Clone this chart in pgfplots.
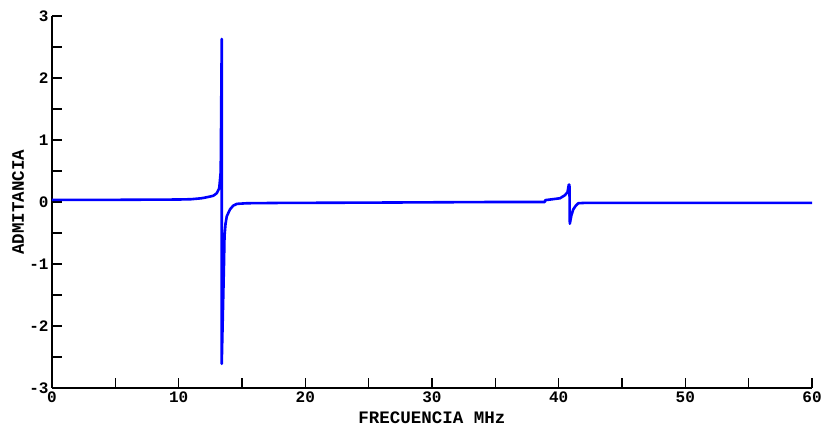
\documentclass[border=0pt]{standalone}
\usepackage{pgfplots}
\pgfplotsset{compat=1.18}
\usepackage{fontspec}
\setmainfont{Liberation Mono}
\begin{document}
\begin{tikzpicture}
\useasboundingbox (0,0) rectangle (823pt,428pt);
\begin{axis}[
  at={(52pt,40pt)}, anchor=south west,
  scale only axis, width=760pt, height=372pt,
  xmin=0, xmax=60, ymin=-3, ymax=3,
  axis lines*=left,
  axis line style={line width=1.2pt, black},
  tick align=inside,
  major tick length=10pt, minor tick length=10pt,
  tick style={line width=1.1pt, black},
  xtick={0,10,...,60}, minor xtick={5,15,...,55},
  ytick={-3,-2,-1,0,1,2,3}, minor ytick={-2.5,-1.5,-0.5,0.5,1.5,2.5},
  xticklabels={0,10,20,30,40,50,60},
  yticklabels={-3,-2,-1,0,1,2,3},
  ticklabel style={font=\fontsize{16}{16}\selectfont\bfseries},
  xlabel={FRECUENCIA MHz}, ylabel={ADMITANCIA},
  label style={font=\fontsize{17.5}{17.5}\selectfont\bfseries},
  xlabel style={at={(axis description cs:0.5,0)}, anchor=center, yshift=-30pt},
  ylabel style={at={(axis description cs:-0.0447,0.5)}, anchor=center},
  clip=false,
]
\addplot[blue, line width=2.6pt, line join=round] coordinates {
(0,0.035) (5,0.035) (10,0.04) (11,0.045) (11.8,0.06) (12.3,0.08) (12.73,0.1)
(13.0,0.14) (13.2,0.22) (13.26,0.35) (13.32,0.49) (13.40,2.63) (13.40,-2.61)
(13.58,-0.98) (13.62,-0.55) (13.7,-0.35) (13.8,-0.23) (14.05,-0.12) (14.3,-0.06)
(14.6,-0.03) (15.4,-0.02) (18,-0.015) (25,-0.01) (35,0.0) (38.9,0.0)
(38.95,0.03) (40.1,0.06) (40.5,0.11) (40.7,0.16) (40.8,0.28) (40.85,0.28)
(40.88,-0.35) (41.0,-0.22) (41.15,-0.12) (41.35,-0.06) (41.55,-0.02)
(42,-0.015) (50,-0.015) (60,-0.015)
};
\end{axis}
\end{tikzpicture}
\end{document}
